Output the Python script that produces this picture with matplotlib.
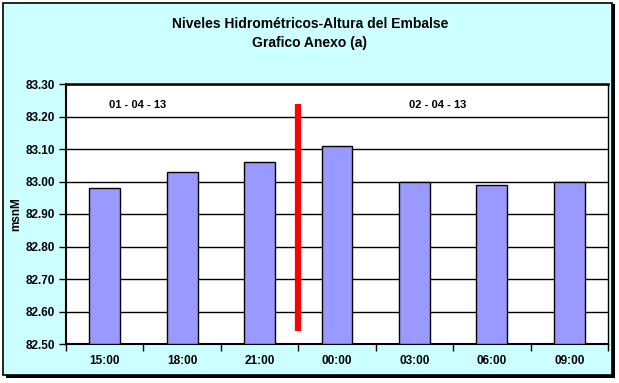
import matplotlib
matplotlib.use("Agg")
import matplotlib.pyplot as plt
from matplotlib.patches import Rectangle

categories = ["15:00", "18:00", "21:00", "00:00", "03:00", "06:00", "09:00"]
values = [82.98, 83.03, 83.06, 83.11, 83.00, 82.99, 83.00]
yticks = [82.50, 82.60, 82.70, 82.80, 82.90, 83.00, 83.10, 83.20, 83.30]
divider_x = 2.5
divider_y = [82.54, 83.24]
date_labels = ["01 - 04 - 13", "02 - 04 - 13"]
date_x = [0.42, 4.3]
date_y = 83.235

plt.rcParams['font.family'] = ['Liberation Sans', 'DejaVu Sans']

W, H = 619, 383
fig = plt.figure(figsize=(W / 100, H / 100), dpi=100)
fig.patch.set_facecolor("white")

# outer frame with shadow
fig.add_artist(Rectangle((6 / W, 1 - 378 / H), 609 / W, 374 / H, transform=fig.transFigure,
                         facecolor="black", edgecolor="none", zorder=-3))
fig.add_artist(Rectangle((3 / W, 1 - 375 / H), 609 / W, 372 / H, transform=fig.transFigure,
                         facecolor="#CCFFFF", edgecolor="black", linewidth=1.2, zorder=-2))

ax = fig.add_axes([66 / W, 1 - 344 / H, (608 - 66) / W, (344 - 84) / H])
ax.set_facecolor("white")
x = list(range(len(categories)))
ax.bar(x, [v - yticks[0] for v in values], bottom=yticks[0], width=0.4,
       color="#9999FF", edgecolor="black", linewidth=1.0, zorder=3)
ax.set_xlim(-0.5, len(categories) - 0.5)
ax.set_ylim(yticks[0], yticks[-1])
ax.set_yticks(yticks)
ax.set_yticklabels([f"{t:.2f}" for t in yticks], fontsize=8.5, fontweight="bold")
ax.set_xticks(x)
ax.set_xticklabels(categories, fontsize=8.5, fontweight="bold")
ax.set_xticks([i + 0.5 for i in range(-1, len(categories))], minor=True)
ax.tick_params(axis="x", which="major", length=0, pad=8)
ax.tick_params(axis="x", which="minor", length=5, width=1, direction="out")
ax.tick_params(axis="y", length=5, width=1, direction="out", pad=3)
ax.grid(axis="y", color="black", linewidth=1.0, zorder=0)
for s in ax.spines.values():
    s.set_color("black")
ax.spines["left"].set_linewidth(1.5)
ax.spines["bottom"].set_linewidth(1.5)
ax.spines["top"].set_linewidth(1.8)
ax.spines["right"].set_linewidth(1.0)

ax.plot([divider_x, divider_x], divider_y, color="#FF0000", linewidth=4.5,
        solid_capstyle="butt", zorder=5)

for lbl, dx in zip(date_labels, date_x):
    ax.text(dx, date_y, lbl, fontsize=8, fontweight="bold", ha="center", va="center",
            zorder=6)

ax.set_ylabel("msnM", fontsize=8.5, fontweight="bold")
ax.yaxis.set_label_coords(-0.080, 0.5)

fig.text(310 / W, 1 - 24 / H, "Niveles Hidrométricos-Altura del Embalse", ha="center",
         va="center", fontsize=10, fontweight="bold")
fig.text(310 / W, 1 - 43 / H, "Grafico Anexo (a)", ha="center", va="center",
         fontsize=10, fontweight="bold")

fig.savefig("out.png", dpi=100)
